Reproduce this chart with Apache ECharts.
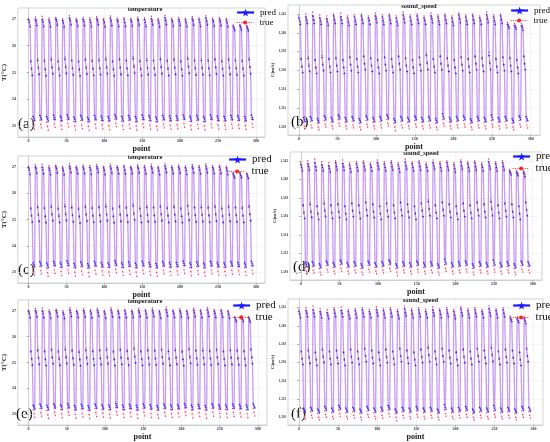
<!DOCTYPE html>
<html>
<head>
<meta charset="utf-8">
<script src="https://cdn.jsdelivr.net/npm/echarts@6/dist/echarts.min.js"></script>
<style>
  html, body { margin: 0; padding: 0; background: #fff; }
  #chart { width: 550px; height: 442px; }
</style>
</head>
<body>
<div id="chart"></div>
<script>
// one profile = 9 points: 3 near surface, 3 thermocline, 3 deep
const tempTrue = [
  27.02, 26.93, 26.78, 25.46, 25.18, 24.92, 23.18, 23.02, 22.88,
  27.08, 26.97, 26.83, 25.52, 25.22, 24.96, 23.22, 23.06, 22.93,
  27.10, 26.96, 26.79, 25.49, 25.16, 24.90, 23.15, 22.98, 22.84,
  27.04, 26.92, 26.77, 25.55, 25.24, 24.98, 23.25, 23.08, 22.95,
  27.06, 26.98, 26.84, 25.47, 25.19, 24.93, 23.19, 23.03, 22.87,
  27.01, 26.90, 26.76, 25.58, 25.26, 25.00, 23.24, 23.09, 22.96,
  27.12, 26.99, 26.85, 25.50, 25.21, 24.94, 23.17, 23.00, 22.85,
  27.03, 26.94, 26.80, 25.45, 25.15, 24.89, 23.21, 23.04, 22.90,
  27.07, 26.96, 26.81, 25.53, 25.23, 24.97, 23.16, 22.99, 22.83,
  27.05, 26.93, 26.78, 25.48, 25.17, 24.91, 23.23, 23.07, 22.92,
  27.09, 26.99, 26.86, 25.51, 25.20, 24.95, 23.20, 23.05, 22.89,
  27.02, 26.91, 26.77, 25.56, 25.25, 24.99, 23.18, 23.01, 22.86,
  27.11, 26.97, 26.82, 25.46, 25.16, 24.90, 23.26, 23.10, 22.97,
  27.04, 26.95, 26.79, 25.54, 25.22, 24.96, 23.19, 23.02, 22.87,
  27.06, 26.92, 26.78, 25.49, 25.18, 24.92, 23.22, 23.06, 22.91,
  27.03, 26.94, 26.80, 25.60, 25.28, 25.02, 23.17, 23.00, 22.84,
  27.08, 26.98, 26.83, 25.47, 25.17, 24.91, 23.24, 23.08, 22.94,
  27.05, 26.93, 26.79, 25.52, 25.21, 24.95, 23.20, 23.04, 22.88,
  27.10, 26.97, 26.84, 25.50, 25.19, 24.93, 23.16, 22.99, 22.85,
  27.02, 26.91, 26.77, 25.55, 25.24, 24.98, 23.23, 23.07, 22.93,
  27.14, 26.99, 26.85, 25.48, 25.18, 24.92, 23.19, 23.03, 22.88,
  27.04, 26.94, 26.80, 25.53, 25.22, 24.96, 23.21, 23.05, 22.90,
  27.07, 26.96, 26.82, 25.46, 25.16, 24.90, 23.25, 23.09, 22.95,
  27.03, 26.92, 26.78, 25.57, 25.26, 25.00, 23.18, 23.02, 22.86,
  27.09, 26.98, 26.83, 25.50, 25.20, 24.94, 23.22, 23.06, 22.91,
  27.05, 26.93, 26.79, 25.52, 25.21, 24.95, 23.17, 23.00, 22.85,
  27.12, 26.97, 26.84, 25.49, 25.19, 24.93, 23.24, 23.08, 22.93,
  27.04, 26.94, 26.80, 25.54, 25.23, 24.97, 23.20, 23.04, 22.89,
  27.06, 26.95, 26.81, 25.47, 25.17, 24.91, 23.19, 23.03, 22.87,
  27.02, 26.91, 26.77, 25.53, 25.22, 24.96, 23.23, 23.07, 22.92,
  26.78, 26.70, 26.62, 25.50, 25.20, 24.94, 23.21, 23.05, 22.90,
  26.80, 26.72, 26.63, 25.48, 25.18, 24.92, 23.18, 23.02, 22.87,
  26.77, 26.69, 26.60, 25.55, 25.24, 24.98, 23.24, 23.08, 22.94
];

const tempPred = [
  26.97, 26.88, 26.72, 25.42, 25.14, 24.90, 23.36, 23.29, 23.21,
  27.00, 26.92, 26.76, 25.46, 25.17, 24.93, 23.40, 23.32, 23.24,
  26.99, 26.89, 26.73, 25.43, 25.12, 24.88, 23.35, 23.27, 23.19,
  26.96, 26.87, 26.71, 25.48, 25.19, 24.95, 23.41, 23.33, 23.25,
  27.01, 26.93, 26.77, 25.41, 25.13, 24.89, 23.37, 23.30, 23.20,
  26.95, 26.86, 26.70, 25.50, 25.20, 24.96, 23.42, 23.34, 23.26,
  27.03, 26.94, 26.78, 25.45, 25.16, 24.91, 23.34, 23.26, 23.18,
  26.97, 26.89, 26.74, 25.40, 25.11, 24.87, 23.39, 23.31, 23.23,
  27.00, 26.91, 26.75, 25.47, 25.18, 24.94, 23.33, 23.25, 23.17,
  26.98, 26.88, 26.72, 25.43, 25.14, 24.90, 23.40, 23.32, 23.24,
  27.02, 26.94, 26.79, 25.46, 25.16, 24.92, 23.37, 23.29, 23.21,
  26.96, 26.87, 26.71, 25.49, 25.19, 24.95, 23.36, 23.28, 23.20,
  27.03, 26.92, 26.76, 25.41, 25.12, 24.88, 23.43, 23.35, 23.27,
  26.98, 26.90, 26.73, 25.48, 25.18, 24.93, 23.36, 23.28, 23.19,
  27.00, 26.88, 26.73, 25.44, 25.15, 24.90, 23.39, 23.31, 23.23,
  26.97, 26.89, 26.74, 25.52, 25.22, 24.98, 23.35, 23.27, 23.18,
  27.01, 26.93, 26.77, 25.42, 25.13, 24.89, 23.41, 23.33, 23.25,
  26.99, 26.88, 26.73, 25.46, 25.17, 24.92, 23.38, 23.30, 23.21,
  27.02, 26.92, 26.78, 25.45, 25.15, 24.91, 23.34, 23.26, 23.18,
  26.96, 26.86, 26.71, 25.49, 25.20, 24.95, 23.40, 23.32, 23.24,
  27.05, 26.94, 26.79, 25.43, 25.14, 24.89, 23.37, 23.29, 23.20,
  26.98, 26.89, 26.74, 25.47, 25.18, 24.93, 23.38, 23.30, 23.22,
  27.00, 26.91, 26.76, 25.41, 25.12, 24.88, 23.42, 23.34, 23.26,
  26.97, 26.87, 26.72, 25.51, 25.21, 24.97, 23.36, 23.28, 23.19,
  27.02, 26.93, 26.77, 25.45, 25.16, 24.91, 23.39, 23.31, 23.23,
  26.99, 26.88, 26.73, 25.46, 25.17, 24.92, 23.35, 23.27, 23.18,
  27.04, 26.92, 26.78, 25.44, 25.15, 24.90, 23.41, 23.33, 23.25,
  26.98, 26.89, 26.74, 25.48, 25.19, 24.94, 23.37, 23.29, 23.21,
  27.00, 26.90, 26.75, 25.42, 25.13, 24.89, 23.36, 23.28, 23.20,
  26.96, 26.86, 26.71, 25.47, 25.18, 24.93, 23.40, 23.32, 23.24,
  26.74, 26.66, 26.58, 25.45, 25.16, 24.91, 23.38, 23.30, 23.22,
  26.76, 26.68, 26.59, 25.43, 25.14, 24.89, 23.36, 23.28, 23.20,
  26.73, 26.65, 26.56, 25.49, 25.20, 24.95, 23.41, 23.33, 23.25
];

const speedTrue = [
  1541.8, 1541.5, 1541.1, 1537.3, 1536.5, 1535.8, 1530.5, 1530.1, 1529.8,
  1542.0, 1541.6, 1541.2, 1537.5, 1536.7, 1536.0, 1530.6, 1530.2, 1529.9,
  1542.2, 1541.7, 1541.3, 1537.2, 1536.4, 1535.7, 1530.4, 1530.0, 1529.7,
  1541.9, 1541.5, 1541.1, 1537.6, 1536.8, 1536.1, 1530.7, 1530.3, 1530.0,
  1541.8, 1541.4, 1541.0, 1537.3, 1536.5, 1535.8, 1530.5, 1530.1, 1529.8,
  1542.0, 1541.6, 1541.2, 1537.4, 1536.6, 1535.9, 1530.8, 1530.4, 1530.1,
  1542.1, 1541.7, 1541.3, 1537.2, 1536.4, 1535.7, 1530.5, 1530.1, 1529.8,
  1541.8, 1541.4, 1541.0, 1537.5, 1536.7, 1536.0, 1530.6, 1530.2, 1529.9,
  1541.9, 1541.5, 1541.1, 1537.3, 1536.5, 1535.8, 1530.4, 1530.0, 1529.7,
  1542.0, 1541.6, 1541.2, 1537.6, 1536.8, 1536.1, 1530.7, 1530.3, 1530.0,
  1541.8, 1541.4, 1541.0, 1537.4, 1536.6, 1535.9, 1530.5, 1530.1, 1529.8,
  1542.1, 1541.7, 1541.3, 1537.2, 1536.4, 1535.7, 1530.6, 1530.2, 1529.9,
  1541.9, 1541.5, 1541.1, 1537.5, 1536.7, 1536.0, 1530.8, 1530.4, 1530.1,
  1542.0, 1541.6, 1541.2, 1537.3, 1536.5, 1535.8, 1530.4, 1530.0, 1529.6,
  1541.8, 1541.4, 1541.0, 1537.6, 1536.8, 1536.1, 1530.6, 1530.2, 1529.9,
  1542.2, 1541.7, 1541.3, 1537.4, 1536.6, 1535.9, 1530.5, 1530.1, 1529.8,
  1541.9, 1541.5, 1541.1, 1537.2, 1536.4, 1535.7, 1530.7, 1530.3, 1530.0,
  1542.0, 1541.6, 1541.2, 1537.5, 1536.7, 1536.0, 1530.5, 1530.1, 1529.8,
  1541.8, 1541.4, 1541.0, 1537.8, 1536.9, 1536.1, 1530.6, 1530.2, 1529.9,
  1542.1, 1541.7, 1541.3, 1537.3, 1536.5, 1535.8, 1530.4, 1530.0, 1529.7,
  1541.9, 1541.5, 1541.1, 1537.6, 1536.8, 1536.1, 1530.8, 1530.4, 1530.1,
  1542.0, 1541.6, 1541.2, 1537.4, 1536.6, 1535.9, 1530.5, 1530.1, 1529.8,
  1541.8, 1541.4, 1541.0, 1537.2, 1536.4, 1535.7, 1530.6, 1530.2, 1529.9,
  1542.1, 1541.7, 1541.3, 1537.5, 1536.7, 1536.0, 1530.7, 1530.3, 1530.0,
  1541.9, 1541.5, 1541.1, 1537.3, 1536.5, 1535.8, 1530.4, 1530.0, 1529.7,
  1542.0, 1541.6, 1541.2, 1537.6, 1536.8, 1536.1, 1530.6, 1530.2, 1529.9,
  1541.8, 1541.4, 1541.0, 1537.4, 1536.6, 1535.9, 1530.5, 1530.1, 1529.8,
  1542.2, 1541.7, 1541.3, 1537.9, 1537.0, 1536.2, 1530.7, 1530.3, 1530.0,
  1541.9, 1541.5, 1541.1, 1537.3, 1536.5, 1535.8, 1530.5, 1530.1, 1529.8,
  1542.0, 1541.6, 1541.2, 1537.5, 1536.7, 1536.0, 1530.6, 1530.2, 1529.9,
  1541.1, 1540.9, 1540.7, 1537.4, 1536.6, 1535.9, 1530.4, 1530.0, 1529.7,
  1541.0, 1540.8, 1540.6, 1537.2, 1536.4, 1535.7, 1530.7, 1530.3, 1530.0,
  1541.0, 1540.8, 1540.5, 1537.6, 1536.8, 1536.1, 1530.6, 1530.2, 1529.9
];

const speedPred = [
  1541.6, 1541.3, 1540.9, 1537.2, 1536.4, 1535.8, 1531.0, 1530.8, 1530.6,
  1541.7, 1541.4, 1541.0, 1537.3, 1536.5, 1535.9, 1531.1, 1530.9, 1530.7,
  1541.8, 1541.4, 1541.0, 1537.1, 1536.3, 1535.7, 1530.9, 1530.7, 1530.5,
  1541.6, 1541.3, 1540.9, 1537.4, 1536.6, 1536.0, 1531.2, 1531.0, 1530.8,
  1541.5, 1541.2, 1540.8, 1537.2, 1536.4, 1535.8, 1531.0, 1530.8, 1530.6,
  1541.8, 1541.4, 1541.0, 1537.3, 1536.5, 1535.9, 1531.3, 1531.1, 1530.9,
  1541.7, 1541.4, 1541.0, 1537.1, 1536.3, 1535.7, 1531.0, 1530.8, 1530.6,
  1541.6, 1541.2, 1540.8, 1537.4, 1536.6, 1536.0, 1531.1, 1530.9, 1530.7,
  1541.7, 1541.3, 1540.9, 1537.2, 1536.4, 1535.8, 1530.9, 1530.7, 1530.5,
  1541.8, 1541.4, 1541.0, 1537.5, 1536.7, 1536.1, 1531.2, 1531.0, 1530.8,
  1541.6, 1541.3, 1540.9, 1537.3, 1536.5, 1535.9, 1531.0, 1530.8, 1530.6,
  1541.8, 1541.5, 1541.1, 1537.1, 1536.3, 1535.7, 1531.1, 1530.9, 1530.7,
  1541.7, 1541.3, 1540.9, 1537.4, 1536.6, 1536.0, 1531.3, 1531.1, 1530.9,
  1541.8, 1541.4, 1541.0, 1537.2, 1536.4, 1535.8, 1530.9, 1530.7, 1530.5,
  1541.6, 1541.2, 1540.8, 1537.5, 1536.7, 1536.1, 1531.1, 1530.9, 1530.7,
  1541.9, 1541.5, 1541.1, 1537.3, 1536.5, 1535.9, 1531.0, 1530.8, 1530.6,
  1541.7, 1541.3, 1540.9, 1537.1, 1536.3, 1535.7, 1531.2, 1531.0, 1530.8,
  1541.8, 1541.4, 1541.0, 1537.4, 1536.6, 1536.0, 1531.0, 1530.8, 1530.6,
  1541.6, 1541.3, 1540.9, 1537.6, 1536.8, 1536.1, 1531.1, 1530.9, 1530.7,
  1541.8, 1541.5, 1541.1, 1537.2, 1536.4, 1535.8, 1530.9, 1530.7, 1530.5,
  1541.7, 1541.3, 1540.9, 1537.5, 1536.7, 1536.1, 1531.4, 1531.1, 1530.9,
  1541.8, 1541.4, 1541.0, 1537.3, 1536.5, 1535.9, 1531.0, 1530.8, 1530.6,
  1541.6, 1541.2, 1540.8, 1537.1, 1536.3, 1535.7, 1531.1, 1530.9, 1530.7,
  1541.9, 1541.5, 1541.1, 1537.4, 1536.6, 1536.0, 1531.2, 1531.0, 1530.8,
  1541.7, 1541.3, 1540.9, 1537.2, 1536.4, 1535.8, 1530.9, 1530.7, 1530.5,
  1541.8, 1541.4, 1541.0, 1537.5, 1536.7, 1536.1, 1531.1, 1530.9, 1530.7,
  1541.6, 1541.3, 1540.9, 1537.3, 1536.5, 1535.9, 1531.0, 1530.8, 1530.6,
  1541.9, 1541.5, 1541.1, 1537.6, 1536.8, 1536.1, 1531.3, 1531.0, 1530.8,
  1541.7, 1541.3, 1540.9, 1537.2, 1536.4, 1535.8, 1531.0, 1530.8, 1530.6,
  1541.8, 1541.4, 1541.0, 1537.4, 1536.6, 1536.0, 1531.1, 1530.9, 1530.7,
  1540.9, 1540.7, 1540.5, 1537.3, 1536.5, 1535.9, 1530.9, 1530.7, 1530.5,
  1540.8, 1540.6, 1540.4, 1537.1, 1536.3, 1535.7, 1531.2, 1531.0, 1530.8,
  1540.8, 1540.6, 1540.3, 1537.5, 1536.7, 1536.1, 1531.1, 1530.9, 1530.7
];

const xTicks = [0, 50, 100, 150, 200, 250, 300];
const tempTicks = [23, 24, 25, 26, 27];
const speedTicks = [1530, 1532, 1534, 1536, 1538, 1540, 1542];

const STAR = 'path://M50,0 L61,35 L98,35 L68,57 L79,91 L50,70 L21,91 L32,57 L2,35 L39,35 Z';
const SERIF = '"Liberation Serif", "DejaVu Serif", serif';

const panels = [
  { tag: '(a)', kind: 't', grid: { left: 15, top: 8, width: 250, height: 129 }, legend: { left: 236, top: 8, gap: 10, size: 9 } },
  { tag: '(b)', kind: 's', grid: { left: 288, top: 5, width: 252, height: 130 }, legend: { left: 510, top: 6, gap: 10, size: 9 } },
  { tag: '(c)', kind: 't', grid: { left: 15, top: 156, width: 250, height: 127 }, legend: { left: 228, top: 154, gap: 12, size: 11 } },
  { tag: '(d)', kind: 's', grid: { left: 290, top: 152, width: 252, height: 128 }, legend: { left: 512, top: 151, gap: 12, size: 11 } },
  { tag: '(e)', kind: 't', grid: { left: 13, top: 300, width: 254, height: 127 }, legend: { left: 232, top: 300, gap: 12, size: 11 } },
  { tag: '(f)', kind: 's', grid: { left: 288, top: 299, width: 255, height: 128 }, legend: { left: 512, top: 300, gap: 12, size: 11 } }
];

const toPts = arr => arr.map((v, i) => [i, v]);

const option = {
  animation: false,
  backgroundColor: '#fff',
  title: [], grid: [], xAxis: [], yAxis: [], legend: [], series: [], graphic: []
};

panels.forEach((p, k) => {
  const isT = p.kind === 't';
  const g = p.grid;
  option.grid.push(Object.assign({ show: true, borderColor: '#c8c8c8', borderWidth: 0.8, backgroundColor: '#fff' }, g));
  option.title.push({
    text: isT ? 'temperature' : 'sound_speed',
    left: g.left + g.width / 2, top: g.top - 7, textAlign: 'center',
    textStyle: { fontFamily: SERIF, fontSize: 6.5, fontWeight: 'bold', color: '#222' }
  });
  option.xAxis.push({
    type: 'value', gridIndex: k, min: -14, max: 312,
    name: 'point', nameLocation: 'middle', nameGap: 8,
    nameTextStyle: { fontFamily: SERIF, fontSize: 8, fontWeight: 'bold', color: '#222' },
    axisLine: { show: true, lineStyle: { color: '#c8c8c8', width: 0.8 } },
    axisTick: { show: true, length: 1.5, customValues: xTicks, lineStyle: { color: '#999' } },
    axisLabel: { customValues: xTicks, fontSize: 4, fontWeight: 'bold', color: '#333', margin: 2, fontFamily: SERIF },
    splitLine: { show: true, lineStyle: { color: '#ececec', width: 0.6 } }
  });
  option.yAxis.push({
    type: 'value', gridIndex: k,
    min: isT ? 22.59 : 1529.15, max: isT ? 27.41 : 1542.95,
    name: isT ? 'T(°C)' : 'C(m/s)', nameLocation: 'middle', nameGap: isT ? 8 : 11,
    nameTextStyle: { fontFamily: SERIF, fontSize: isT ? 7 : 5, fontWeight: 'bold', color: '#222' },
    axisLine: { show: true, lineStyle: { color: '#c8c8c8', width: 0.8 } },
    axisTick: { show: true, length: 1.5, customValues: isT ? tempTicks : speedTicks, lineStyle: { color: '#999' } },
    axisLabel: { customValues: isT ? tempTicks : speedTicks, fontSize: isT ? 4 : 3.2, fontWeight: 'bold', color: '#333', margin: 2, fontFamily: SERIF },
    splitLine: { show: true, lineStyle: { color: '#ececec', width: 0.6 } }
  });
  const legendText = { fontFamily: SERIF, fontSize: p.legend.size, color: '#111', padding: [0, 0, 0, 1] };
  option.legend.push({
    left: p.legend.left, top: p.legend.top, padding: 0,
    itemWidth: 17, itemHeight: 10, textStyle: legendText,
    itemStyle: { color: '#1a1aff' },
    lineStyle: { color: '#1a1aff', width: 2.2 },
    data: ['pred']
  });
  option.legend.push({
    left: p.legend.left, top: p.legend.top + p.legend.gap, padding: 0,
    itemWidth: 17, itemHeight: 5, textStyle: legendText,
    itemStyle: { color: '#ff2020' },
    lineStyle: { color: '#ff4040', width: 1.2, type: 'dotted' },
    data: ['true']
  });
  option.series.push({
    name: 'pred', type: 'line', xAxisIndex: k, yAxisIndex: k,
    data: toPts(isT ? tempPred : speedPred),
    symbol: STAR, symbolSize: 2.6, showAllSymbol: true,
    itemStyle: { color: '#2222ee' },
    lineStyle: { color: 'rgba(165,110,235,0.6)', width: 1.3 },
    z: 3
  });
  option.series.push({
    name: 'true', type: 'line', xAxisIndex: k, yAxisIndex: k,
    data: toPts(isT ? tempTrue : speedTrue),
    symbol: 'circle', symbolSize: 1.4, showAllSymbol: true,
    itemStyle: { color: '#ff3030' },
    lineStyle: { color: 'rgba(225,140,235,0.5)', width: 1, type: 'dotted' },
    z: 2
  });
  option.graphic.push({
    type: 'text', left: g.left + 3, top: g.top + g.height - 20,
    style: { text: p.tag, font: '15px ' + SERIF, fill: '#111' }
  });
});

const chart = echarts.init(document.getElementById('chart'));
chart.setOption(option);
</script>
</body>
</html>
